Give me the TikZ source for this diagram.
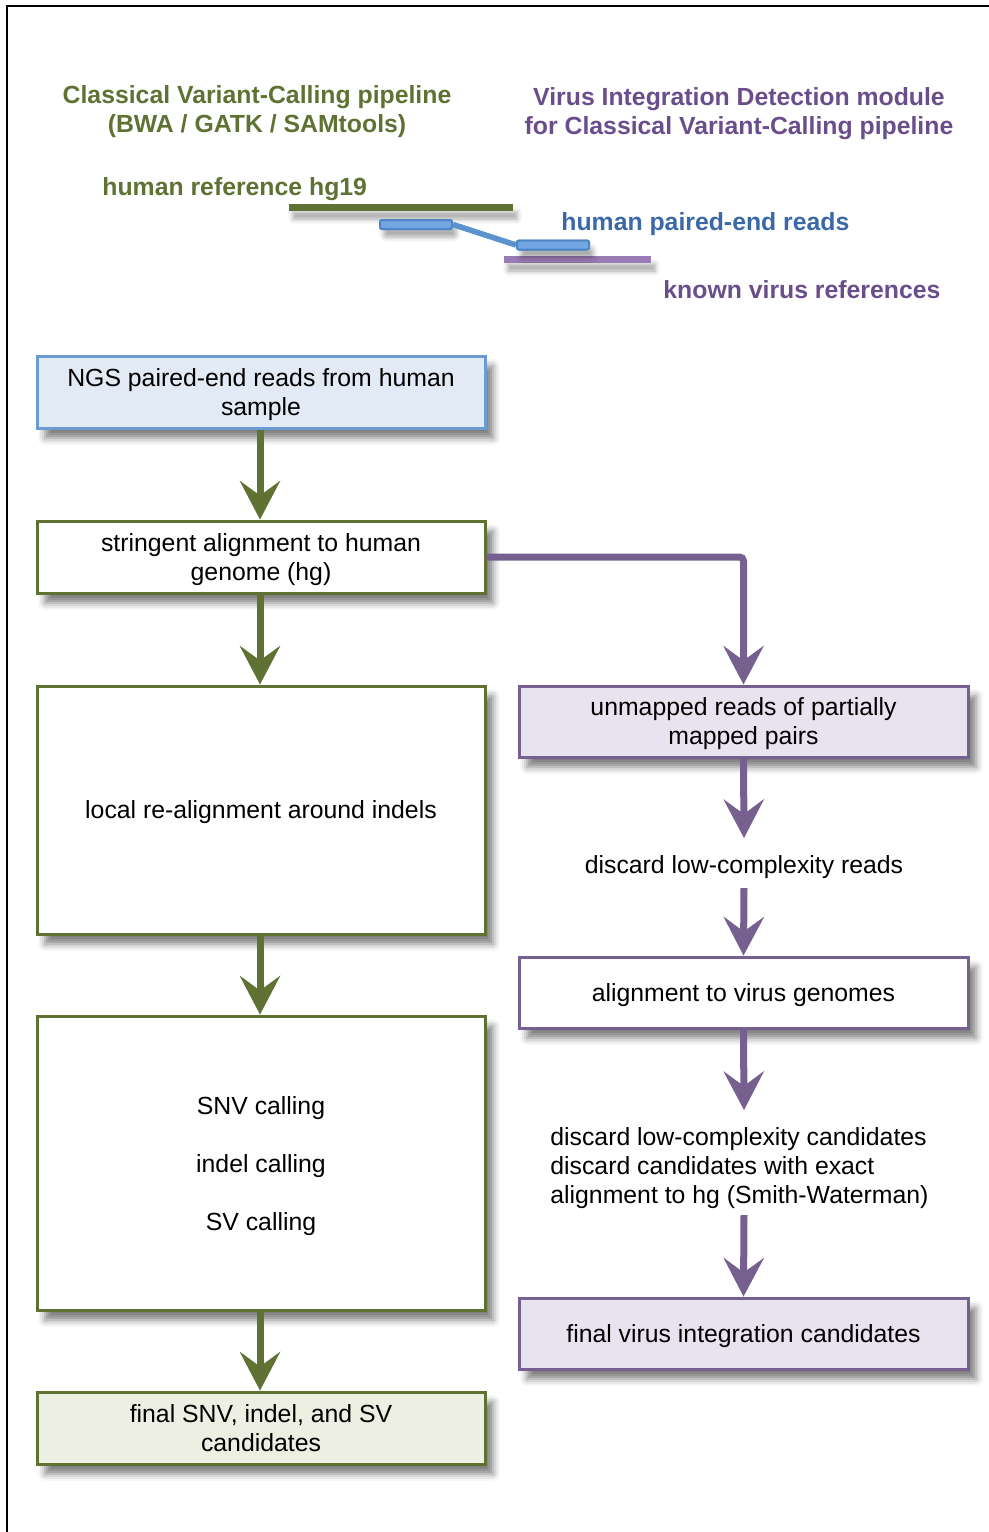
\documentclass[tikz,border=0pt]{standalone}
\usepackage{fontspec}
\setmainfont{Liberation Sans}
\usetikzlibrary{arrows.meta,shadows.blur}
\definecolor{grn}{HTML}{5F7234}
\definecolor{pur}{HTML}{76608F}
\definecolor{purtxt}{HTML}{6A4E8C}
\definecolor{bluetxt}{HTML}{3B68A6}
\definecolor{blueedge}{HTML}{6A9BD3}
\definecolor{bluefill}{HTML}{E2EAF5}
\definecolor{lavfill}{HTML}{E8E3EF}
\definecolor{grnfill}{HTML}{ECEFE2}
\definecolor{purbar}{HTML}{9A7CB4}
\definecolor{readfill}{HTML}{72A6E2}
\definecolor{readedge}{HTML}{4F86C6}
\definecolor{readline}{HTML}{5B93CF}
\tikzset{
  shad/.style={blur shadow={shadow xshift=4pt, shadow yshift=-5pt, shadow blur radius=3.5pt, shadow opacity=50}},
  smallshad/.style={blur shadow={shadow xshift=2pt, shadow yshift=-4pt, shadow blur radius=2.5pt, shadow opacity=35}},
  box/.style={draw, line width=1.5pt, minimum width=224pt, minimum height=36pt, inner sep=2pt, align=center, text depth=-0.4pt, shad},
  gbox/.style={box, draw=grn, fill=white},
  pbox/.style={box, draw=pur, fill=white},
  txt/.style={inner sep=0pt, align=center, text depth=-0.2pt},
  gtitle/.style={txt, text=grn, font=\fontsize{12.4pt}{14.5pt}\selectfont\bfseries},
  ptitle/.style={txt, text=purtxt, font=\fontsize{12.4pt}{14.5pt}\selectfont\bfseries},
  arr/.style={line width=3.5pt, -{Stealth[length=19.5pt,width=20.5pt,inset=7.5pt,line width=0pt]}},
  garrow/.style={arr, draw=grn},
  parrow/.style={arr, draw=pur},
  read/.style={draw=readedge, fill=readfill, line width=1pt, rounded corners=1pt, minimum width=36pt, minimum height=4.5pt, inner sep=0pt},
  bar/.style={minimum height=3.5pt, inner sep=0pt, smallshad}
}
\begin{document}
\begin{tikzpicture}[x=0.5pt,y=-0.5pt, font=\fontsize{12.4pt}{14.5pt}\selectfont]
\useasboundingbox (0,0) rectangle (989,1532);
% frame
\draw[line width=1pt] (7,1532) -- (7,6) -- (989,6);

% titles
\node[gtitle] (t1) at (257,109.5) {Classical Variant-Calling pipeline\\(BWA / GATK / SAMtools)};
\node[ptitle] (t2) at (739,111.5) {Virus Integration Detection module\\for Classical Variant-Calling pipeline};

% legend
\node[gtitle, anchor=west] (hr) at (102,187) {human reference hg19};
\node[bar, fill=grn, minimum width=112pt] (gbar) at (401,207.5) {};
\node[bar, fill=purbar, minimum width=73.5pt] (pbar) at (577.5,259.5) {};
\node[read, smallshad] (r1) at (416,224.5) {};
\node[read, smallshad] (r2) at (553,245) {};
\draw[readline, line width=2.8pt] (r1.east) -- (r2.west);
\node[read] (r1b) at (r1) {};
\node[read] (r2b) at (r2) {};
\node[txt, anchor=west, text=bluetxt, font=\fontsize{12.4pt}{14.5pt}\selectfont\bfseries] (hpr) at (561,222) {human paired-end reads};
\node[ptitle, anchor=west] (kvr) at (663,290) {known virus references};

% left column
\node[box, draw=blueedge, fill=bluefill] (b1) at (261,392) {NGS paired-end reads from human\\sample};
\node[gbox] (b2) at (261,557) {stringent alignment to human\\genome (hg)};
\node[gbox, minimum height=124pt] (b3) at (261,810) {local re-alignment around indels};
\node[gbox, minimum height=147pt] (b4) at (261,1163) {SNV calling\\[14.5pt]indel calling\\[14.5pt]SV calling};
\node[gbox, fill=grnfill] (b5) at (261,1428) {final SNV, indel, and SV\\candidates};

% right column
\node[pbox, fill=lavfill, minimum width=224.5pt, minimum height=35.5pt] (b6) at (743.5,721.5) {unmapped reads of partially\\mapped pairs};
\node[txt] (d1) at (744,865) {discard low-complexity reads};
\node[pbox, minimum width=224.5pt, minimum height=35.5pt] (b8) at (743.5,992.5) {alignment to virus genomes};
\node[txt, align=left, anchor=west] (d2) at (550,1165) {discard low-complexity candidates\\discard candidates with exact\\alignment to hg (Smith-Waterman)};
\node[pbox, fill=lavfill, minimum width=224.5pt, minimum height=35.5pt] (b10) at (743.5,1333.5) {final virus integration candidates};

% connector ends at text blocks
\coordinate (d1top) at (744,838);
\coordinate (d1bot) at (744,888);
\coordinate (d2top) at (744,1110);
\coordinate (d2bot) at (744,1215);

% arrows
\draw[garrow] (b1.south -| 260,0) -- (b2.north -| 260,0);
\draw[garrow] (b2.south -| 260,0) -- (b3.north -| 260,0);
\draw[garrow] (b3.south -| 260,0) -- (b4.north -| 260,0);
\draw[garrow] (b4.south -| 260,0) -- (b5.north -| 260,0);
\draw[parrow, rounded corners=2pt] (b2.east) -| (b6.north);
\draw[parrow] (b6.south) -- (d1top);
\draw[parrow] (d1bot) -- (b8.north);
\draw[parrow] (b8.south) -- (d2top);
\draw[parrow] (d2bot) -- (b10.north);
\end{tikzpicture}
\end{document}
